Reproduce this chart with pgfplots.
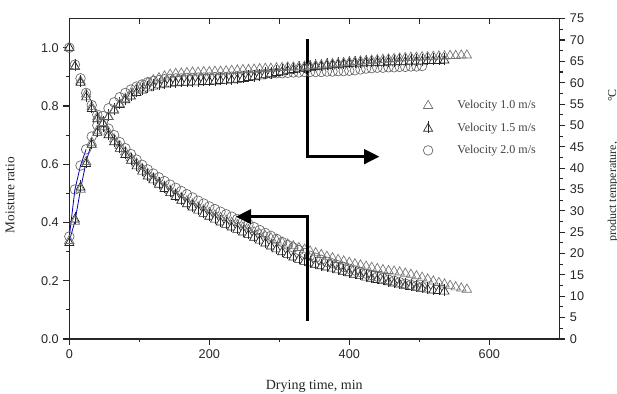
\documentclass[border=0pt]{standalone}
\usepackage{fontspec}
\setmainfont{Liberation Serif}
\newfontfamily\arialf{Liberation Sans}
\usepackage{pgfplots}
\usepackage{pgfplotstable}
\pgfplotsset{compat=1.18}
\usetikzlibrary{arrows.meta}
\pgfdeclareplotmark{tribar}{%
  \pgfpathmoveto{\pgfqpoint{0pt}{\pgfplotmarksize}}%
  \pgfpathlineto{\pgfqpoint{-0.866\pgfplotmarksize}{-0.5\pgfplotmarksize}}%
  \pgfpathlineto{\pgfqpoint{0.866\pgfplotmarksize}{-0.5\pgfplotmarksize}}%
  \pgfpathclose
  \pgfusepathqfillstroke
  \pgfpathmoveto{\pgfqpoint{0pt}{1.45\pgfplotmarksize}}%
  \pgfpathlineto{\pgfqpoint{0pt}{-0.85\pgfplotmarksize}}%
  \pgfusepathqstroke
}
% t  MR  T   (velocity 1.0 m/s)
\pgfplotstableread{
t MR T
0 1.000 23.0
8 0.935 27.5
16 0.885 35.0
24 0.840 41.5
32 0.797 46.0
40 0.762 48.8
48 0.735 50.6
56 0.710 52.0
64 0.686 53.6
72 0.663 55.0
80 0.642 56.3
88 0.622 57.5
96 0.603 58.5
104 0.585 59.3
112 0.568 60.0
120 0.552 60.6
128 0.537 61.1
136 0.523 61.5
144 0.510 61.9
152 0.497 62.1
160 0.485 62.2
168 0.474 62.3
176 0.463 62.4
184 0.453 62.4
192 0.443 62.5
200 0.434 62.5
208 0.425 62.6
216 0.416 62.6
224 0.407 62.7
232 0.399 62.8
240 0.391 62.9
248 0.383 63.0
256 0.375 63.0
264 0.367 63.1
272 0.360 63.2
280 0.353 63.3
288 0.346 63.3
296 0.339 63.4
304 0.332 63.5
312 0.325 63.6
320 0.319 63.6
328 0.313 63.7
336 0.307 63.8
344 0.301 63.9
352 0.295 64.0
360 0.289 64.1
368 0.283 64.3
376 0.278 64.4
384 0.272 64.5
392 0.267 64.6
400 0.262 64.8
408 0.257 64.9
416 0.253 65.0
424 0.249 65.1
432 0.245 65.2
440 0.241 65.3
448 0.237 65.4
456 0.234 65.5
464 0.232 65.6
472 0.229 65.7
480 0.225 65.8
488 0.221 65.9
496 0.216 65.9
504 0.211 66.0
512 0.205 66.0
520 0.198 66.1
528 0.193 66.2
536 0.188 66.2
544 0.183 66.3
552 0.178 66.3
560 0.174 66.4
568 0.170 66.4
}\vone
% velocity 1.5 m/s
\pgfplotstableread{
t MR T
0 1.000 22.5
8 0.935 28.0
16 0.880 35.5
24 0.830 41.0
32 0.790 45.5
40 0.755 48.3
48 0.727 50.4
56 0.700 52.0
64 0.676 53.5
72 0.653 54.8
80 0.632 55.9
88 0.612 56.8
96 0.593 57.6
104 0.575 58.2
112 0.558 58.7
120 0.545 59.1
128 0.530 59.4
136 0.515 59.6
144 0.501 59.8
152 0.488 59.9
160 0.475 60.0
168 0.463 60.0
176 0.452 60.1
184 0.441 60.1
192 0.430 60.2
200 0.420 60.2
208 0.410 60.3
216 0.400 60.4
224 0.392 60.5
232 0.383 60.6
240 0.375 60.7
248 0.366 60.9
256 0.357 61.1
264 0.348 61.3
272 0.338 61.5
280 0.328 61.8
288 0.318 62.0
296 0.308 62.3
304 0.298 62.5
312 0.289 62.8
320 0.280 63.0
328 0.272 63.2
336 0.265 63.4
344 0.260 63.5
352 0.255 63.7
360 0.250 63.8
368 0.246 64.0
376 0.242 64.1
384 0.236 64.2
392 0.231 64.3
400 0.226 64.4
408 0.221 64.5
416 0.216 64.5
424 0.211 64.6
432 0.207 64.6
440 0.203 64.7
448 0.199 64.7
456 0.195 64.8
464 0.191 64.8
472 0.187 64.9
480 0.183 64.9
488 0.179 65.0
496 0.176 65.0
504 0.173 65.0
512 0.170 65.1
520 0.167 65.1
528 0.165 65.1
536 0.163 65.2
}\vtwo
% velocity 2.0 m/s
\pgfplotstableread{
t MR T
0 1.000 24.0
8 0.942 35.0
16 0.895 40.6
24 0.845 44.4
32 0.803 47.4
40 0.770 50.0
48 0.745 52.2
56 0.722 54.0
64 0.700 55.4
72 0.676 56.6
80 0.655 57.6
88 0.635 58.4
96 0.616 59.1
104 0.598 59.6
112 0.582 60.1
120 0.568 60.4
128 0.555 60.6
136 0.542 60.8
144 0.530 60.9
152 0.519 61.0
160 0.508 61.0
168 0.497 61.1
176 0.486 61.1
184 0.475 61.2
192 0.465 61.2
200 0.455 61.2
208 0.446 61.3
216 0.437 61.3
224 0.428 61.3
232 0.420 61.4
240 0.412 61.5
248 0.403 61.6
256 0.394 61.7
264 0.384 61.8
272 0.374 61.9
280 0.364 62.0
288 0.354 62.1
296 0.344 62.2
304 0.333 62.2
312 0.323 62.3
320 0.314 62.4
328 0.305 62.4
336 0.295 62.5
344 0.286 62.5
352 0.279 62.5
360 0.272 62.5
368 0.265 62.6
376 0.259 62.6
384 0.253 62.7
392 0.247 62.7
400 0.241 62.8
408 0.235 62.9
416 0.230 63.1
424 0.224 63.3
432 0.219 63.4
440 0.214 63.5
448 0.209 63.5
456 0.204 63.6
464 0.200 63.6
472 0.195 63.7
480 0.190 63.7
488 0.186 63.8
496 0.182 63.8
504 0.178 63.9
}\vthree
\pgfplotsset{
  base/.style={scale only axis, width=367.5pt, height=240.3pt,
    xmin=0, xmax=700, at={(0,0)}, anchor=south west,
    x axis line style={-}, y axis line style={-},
    axis line style={line width=0.8pt, black!85},
    tick style={line width=0.8pt, black!85},
    major tick length=4.5pt, minor tick length=2.5pt,
    tick label style={font=\arialf\fontsize{9.5}{11}\selectfont, text=black!85},
    /pgf/number format/assume math mode=true,
    clip mode=individual},
  mtri/.style={only marks, mark=triangle, mark size=4.1pt, mark options={fill=white, draw=black!55, line width=0.5pt}},
  mbar/.style={only marks, mark=tribar, mark size=3.9pt, mark options={fill=white, draw=black!85, line width=0.5pt}},
  mcirc/.style={only marks, mark=o, mark size=3.6pt, mark options={fill=white, draw=black!60, line width=0.5pt}},
}
\begin{document}
\begin{tikzpicture}
\begin{axis}[base, ymin=0, ymax=1.1,
  axis x line*=bottom, axis y line*=left, tick align=outside,
  xtick={0,200,400,600}, minor xtick={100,300,500},
  ytick={0,0.2,0.4,0.6,0.8,1.0}, minor ytick={0.1,0.3,0.5,0.7,0.9},
  yticklabel style={/pgf/number format/.cd, fixed, fixed zerofill, precision=1},
  xlabel={Drying time, min}, ylabel={Moisture ratio},
  xlabel style={at={(axis description cs:0.5,-0.1467)}, anchor=center, font=\fontsize{10.5}{12}\selectfont, text=black!85},
  ylabel style={at={(axis description cs:-0.121,0.449)}, anchor=center, font=\fontsize{10}{12}\selectfont, text=black!85},
  legend style={draw=none, fill=none, inner sep=0pt, at={(axis description cs:0.710,0.749)}, anchor=north west,
    row sep=6.6pt, font=\fontsize{9}{10}\selectfont, text=black!75, nodes={inner sep=1pt}},
  legend cell align=left,
  legend image code/.code={\path[draw=none,fill=none] (-8pt,-4.5pt) rectangle (21pt,4.5pt); \draw[#1] plot coordinates {(0pt,0pt)};},
]
\addplot[mtri] table[x=t, y=MR] {\vone};
\addplot[mbar] table[x=t, y=MR] {\vtwo};
\addplot[mcirc] table[x=t, y=MR] {\vthree};
\legend{Velocity 1.0 m/s, Velocity 1.5 m/s, Velocity 2.0 m/s}
\draw[line width=2pt, line join=miter, -{Triangle[length=11.5pt,width=11pt]}] (axis cs:340,1.029) -- (axis cs:340,0.626) -- (axis cs:443,0.626);
\draw[line width=2pt, line join=miter, -{Triangle[length=11.5pt,width=11pt]}] (axis cs:340,0.063) -- (axis cs:340,0.42) -- (axis cs:238,0.42);
\end{axis}
\begin{axis}[base, ymin=0, ymax=75,
  axis y line*=right, axis x line=none, tick align=outside,
  ytick={0,5,...,75}, minor y tick num=1,
  ylabel={product temperature,\hspace{30pt}°C},
  ylabel style={at={(axis description cs:1.11,0.5415)}, anchor=center, font=\fontsize{9}{11}\selectfont, text=black!85},
]
\addplot[blue!70!black, line width=0.6pt, restrict x to domain=0:33] table[x=t, y=T] {\vone};
\addplot[blue!70!black, line width=0.6pt, restrict x to domain=0:25] table[x=t, y=T] {\vthree};
\addplot[mcirc] table[x=t, y=T] {\vthree};
\addplot[mbar] table[x=t, y=T] {\vtwo};
\addplot[mtri] table[x=t, y=T] {\vone};
\end{axis}
\begin{axis}[base, ymin=0, ymax=1,
  axis x line*=top, axis y line=none, tick align=inside,
  xtick={100,200,300,400,500,600}, xticklabels={}, major tick length=4pt]
\end{axis}
\pgfresetboundingbox
\path[use as bounding box] (-52pt,-41.25pt) rectangle (410.8pt,254.25pt);
\end{tikzpicture}
\end{document}
